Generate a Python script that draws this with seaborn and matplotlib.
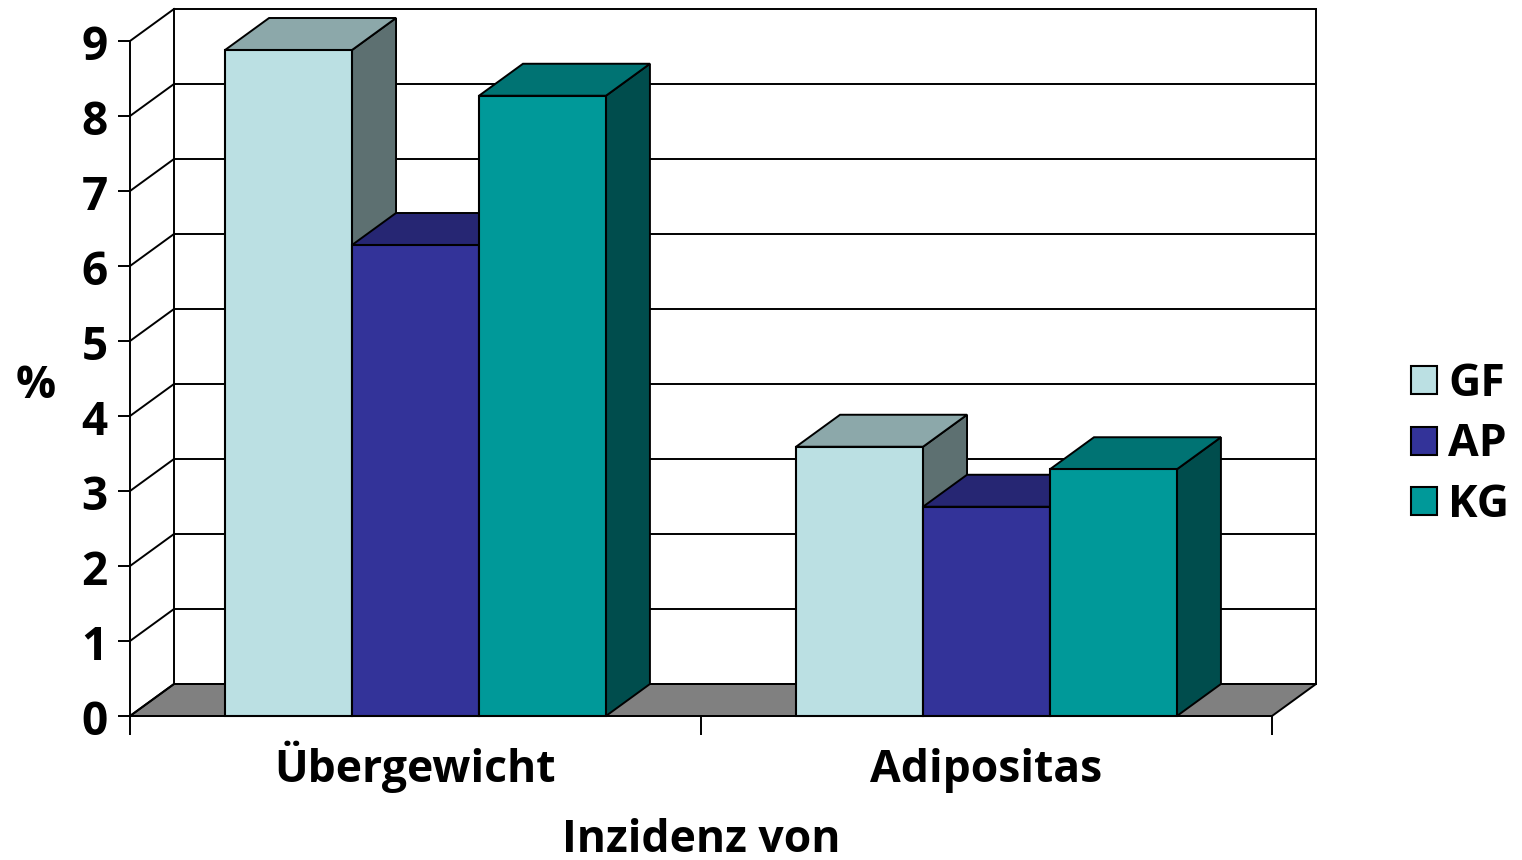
import matplotlib
matplotlib.use("Agg")
import matplotlib.pyplot as plt
from matplotlib.patches import Polygon
from matplotlib.transforms import ScaledTranslation
import pandas as pd
import seaborn as sns

categories = ["Übergewicht", "Adipositas"]
series_names = ["GF", "AP", "KG"]
gf_values = [8.88, 3.59]
ap_values = [6.28, 2.79]
kg_values = [8.27, 3.29]
y_ticks = list(range(10))
front_colors = ["#BBE0E3", "#333399", "#009999"]
top_colors = ["#8CA8AA", "#262673", "#007373"]
side_colors = ["#5D7071", "#1A1A4D", "#004D4D"]
floor_color = "#808080"

df = pd.DataFrame({
    "Kategorie": categories * 3,
    "Gruppe": [s for s in series_names for _ in categories],
    "Wert": gf_values + ap_values + kg_values,
})

W, H = 1522, 860
L, R, B, T = 130, 1272, 716, 41
sns.set_theme(style="white")
plt.rcParams["font.family"] = ["Open Sans", "DejaVu Sans"]
plt.rcParams["font.weight"] = "bold"

fig = plt.figure(figsize=(W / 100, H / 100), dpi=100, facecolor="white")
ax = fig.add_axes([L / W, 1 - B / H, (R - L) / W, (B - T) / H])
sns.barplot(data=df, x="Kategorie", y="Wert", hue="Gruppe", order=categories,
            hue_order=series_names, palette=front_colors, width=0.667, gap=0,
            saturation=1, edgecolor="black", linewidth=1.5, ax=ax, errorbar=None)
ax.set_xlim(-0.5, 1.5)
ax.set_ylim(0, 9)
ax.patch.set_alpha(0)

dx = 44 / ((R - L) / 2)
dy = 32 / ((B - T) / 9)
x0, x1 = -0.5, 1.5
line = dict(color="black", lw=1.4, clip_on=False, solid_capstyle="projecting")

# Floor and walls
ax.add_patch(Polygon([(x0, 0), (x1, 0), (x1 + dx, dy), (x0 + dx, dy)], closed=True,
                     facecolor=floor_color, edgecolor="black", lw=1.4, clip_on=False, zorder=0.5))
for k in y_ticks:
    ax.plot([x0, x0 + dx], [k, k + dy], zorder=1, **line)
    ax.plot([x0 + dx, x1 + dx], [k + dy, k + dy], zorder=1, **line)
ax.plot([x0 + dx, x0 + dx], [dy, 9 + dy], zorder=1, **line)
ax.plot([x1 + dx, x1 + dx], [dy, 9 + dy], zorder=1, **line)

# Depth faces of each bar
for i, container in enumerate(ax.containers):
    for bar in container:
        a, b = bar.get_x(), bar.get_x() + bar.get_width()
        v = bar.get_height()
        bar.set_zorder(4 + 2 * i)
        bar.set_clip_on(False)
        for pts, col in (([(b, 0), (b, v), (b + dx, v + dy), (b + dx, dy)], side_colors[i]),
                         ([(a, v), (b, v), (b + dx, v + dy), (a + dx, v + dy)], top_colors[i])):
            ax.add_patch(Polygon(pts, closed=True, facecolor=col, edgecolor="black",
                                 lw=1.4, clip_on=False, zorder=3 + 2 * i))

# Axes
sns.despine(ax=ax, top=True, right=True)
for s in ("left", "bottom"):
    ax.spines[s].set_linewidth(1.4)
    ax.spines[s].set_color("black")
    ax.spines[s].set_zorder(2)
fs = 32
ax.set_yticks(y_ticks)
ax.set_yticklabels([str(v) for v in y_ticks], fontsize=fs + 1, fontweight="bold", color="black")
ax.tick_params(axis="y", length=9, width=1.4, color="black", left=True, pad=7)
shift_down = ScaledTranslation(0, -0.7 / 72, fig.dpi_scale_trans)
for lab in ax.get_yticklabels():
    lab.set_transform(lab.get_transform() + shift_down)
ax.set_xticks([0, 1])
ax.set_xticklabels(categories, fontsize=fs, fontweight="bold", color="black")
ax.set_xticks([-0.5, 0.5, 1.5], minor=True)
ax.tick_params(axis="x", which="major", length=0, pad=47.5)
ax.tick_params(axis="x", which="minor", length=14, width=1.4, color="black", bottom=True)
for lab in ax.get_xticklabels():
    lab.set_verticalalignment("baseline")
ax.set_xlabel("Inzidenz von", fontsize=fs, fontweight="bold", color="black")
ax.xaxis.set_label_coords(0.5, (B - 841) / (B - T), transform=ax.transAxes)
ax.xaxis.label.set_verticalalignment("center")
ax.set_ylabel("%", fontsize=fs, fontweight="bold", rotation=0, color="black",
              ha="center", va="center")
ax.yaxis.set_label_coords((36 - L) / (R - L), (B - 387) / (B - T))

handles, labels = ax.get_legend_handles_labels()
leg = ax.legend(handles, labels, loc="center left", frameon=False, fontsize=fs,
                bbox_to_anchor=((1411 - L) / (R - L), (B - 445) / (B - T)),
                handlelength=0.59, handleheight=0.59, handletextpad=0.25,
                labelspacing=0.35, borderpad=0, borderaxespad=0)
for t in leg.get_texts():
    t.set_fontweight("bold")
    t.set_color("black")

fig.savefig("out.png", dpi=100, facecolor="white")
